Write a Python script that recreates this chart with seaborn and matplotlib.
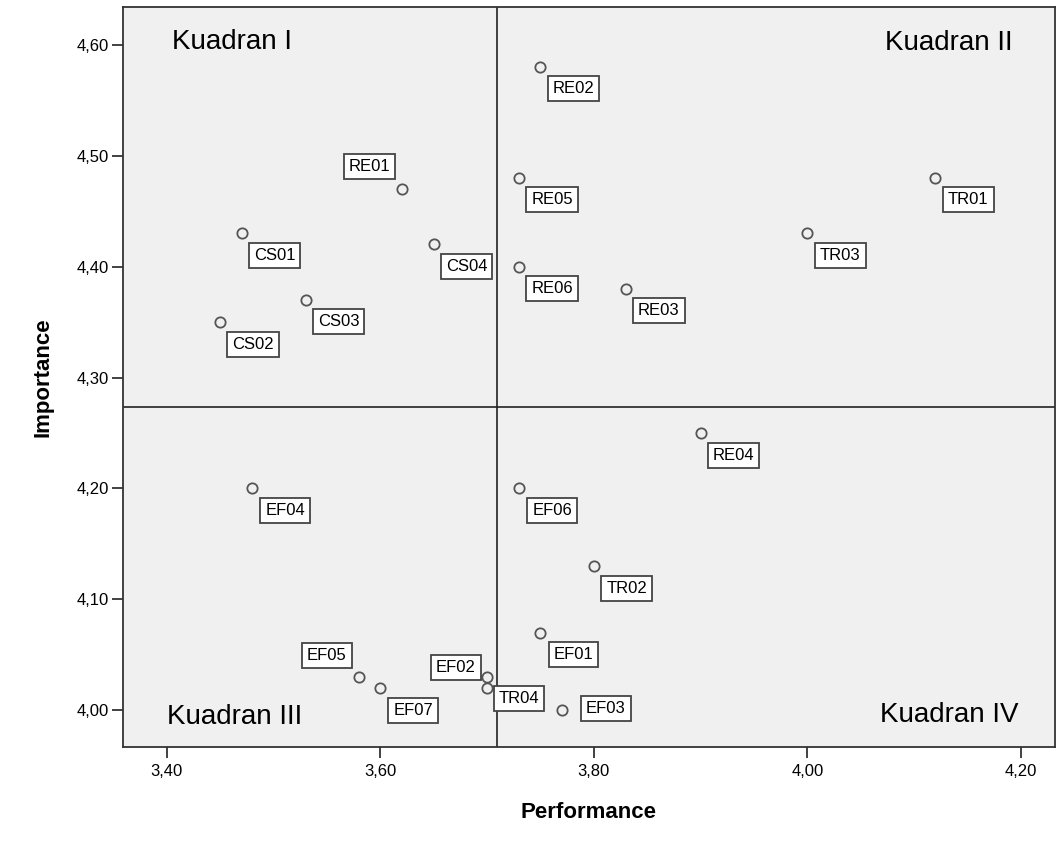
import matplotlib.pyplot as plt
import numpy as np
import pandas as pd
import seaborn as sns
from matplotlib.ticker import FuncFormatter

sns.set_style("ticks")
plt.rcParams['font.family'] = ['Liberation Sans', 'DejaVu Sans']
plt.rcParams['text.color'] = 'black'
plt.rcParams['axes.labelcolor'] = 'black'
plt.rcParams['xtick.color'] = 'black'
plt.rcParams['ytick.color'] = 'black'

# IPA items: performance (x) vs importance (y)
codes = ["RE02", "RE05", "RE06", "RE03", "TR03", "TR01", "RE01", "CS01", "CS04",
         "CS03", "CS02", "RE04", "EF04", "EF06", "TR02", "EF01", "EF05", "EF07",
         "EF02", "TR04", "EF03"]
performance = [3.75, 3.73, 3.73, 3.83, 4.00, 4.12, 3.62, 3.47, 3.65,
               3.53, 3.45, 3.90, 3.48, 3.73, 3.80, 3.75, 3.58, 3.60,
               3.70, 3.70, 3.77]
importance = [4.58, 4.48, 4.40, 4.38, 4.43, 4.48, 4.47, 4.43, 4.42,
              4.37, 4.35, 4.25, 4.20, 4.20, 4.13, 4.07, 4.03, 4.02,
              4.03, 4.02, 4.00]
quadrants = ["Kuadran I", "Kuadran II", "Kuadran III", "Kuadran IV"]

data = pd.DataFrame({"code": codes, "Performance": performance, "Importance": importance})

# where each label box sits relative to its point (pixels)
default_offset = (33, -22)
offsets = {"RE01": (-32, 22), "EF05": (-32, 22), "EF02": (-31, 10),
           "TR04": (32, -10), "EF03": (44, 2)}

fig = plt.figure(figsize=(10.57, 8.43), dpi=100)
ax = fig.add_axes([123 / 1057, 1 - 747 / 843, 932 / 1057, 740 / 843])
ax.set_facecolor("#f0f0f0")

sns.scatterplot(data=data, x="Performance", y="Importance", ax=ax, s=55,
                facecolor="#f0f0f0", edgecolor="#555555", linewidth=1.3, zorder=3)

# quadrant lines at the means
ax.axvline(np.mean(performance), color="#222222", lw=1.2, zorder=2)
ax.axhline(np.mean(importance), color="#222222", lw=1.2, zorder=2)

for _, row in data.iterrows():
    off = offsets.get(row["code"], default_offset)
    ax.annotate(row["code"], (row["Performance"], row["Importance"]), xytext=off,
                textcoords="offset pixels", ha="center", va="center", fontsize=12,
                bbox=dict(boxstyle="square,pad=0.3", fc="white", ec="#444444", lw=1.3),
                zorder=4)

ax.set_xlim(3.359, 4.232)
ax.set_ylim(3.967, 4.634)
ax.set_xticks(np.arange(3.4, 4.21, 0.2))
ax.set_yticks(np.arange(4.0, 4.61, 0.1))
comma = FuncFormatter(lambda v, p: f"{v:.2f}".replace(".", ","))
ax.xaxis.set_major_formatter(comma)
ax.yaxis.set_major_formatter(comma)
ax.tick_params(axis="both", direction="out", length=8, width=1.3, color="#333333",
               labelsize=12)
ax.tick_params(axis="x", pad=4)
ax.tick_params(axis="y", pad=2)

for side in ["left", "right", "top", "bottom"]:
    ax.spines[side].set_visible(True)
    ax.spines[side].set_color("#333333")
    ax.spines[side].set_linewidth(1.3)

ax.set_xlabel("Performance", fontsize=16, fontweight="bold")
ax.set_ylabel("Importance", fontsize=16, fontweight="bold")
ax.xaxis.set_label_coords(0.5, -0.075)
ax.yaxis.set_label_coords(-0.075, 0.5)

ax.text(0.053, 0.953, quadrants[0], transform=ax.transAxes, fontsize=20, ha="left", va="center")
ax.text(0.954, 0.951, quadrants[1], transform=ax.transAxes, fontsize=20, ha="right", va="center")
ax.text(0.047, 0.041, quadrants[2], transform=ax.transAxes, fontsize=20, ha="left", va="center")
ax.text(0.961, 0.043, quadrants[3], transform=ax.transAxes, fontsize=20, ha="right", va="center")

fig.savefig("out.png", dpi=100)
